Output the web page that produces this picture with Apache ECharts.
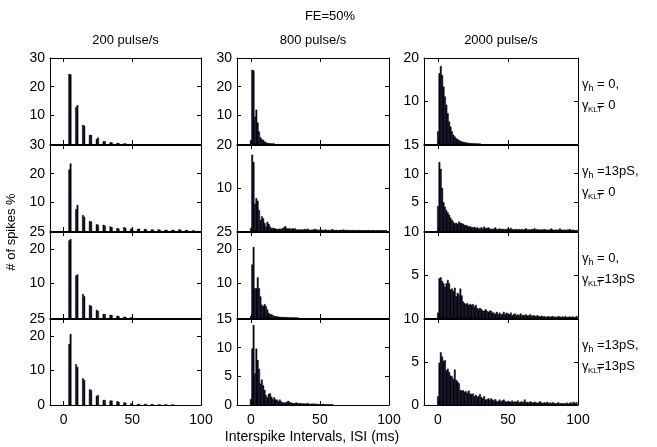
<!doctype html>
<html>
<head>
<meta charset="utf-8">
<title>FE=50%</title>
<style>
    html, body { margin: 0; padding: 0; background: #fff; }
    #chart { width: 657px; height: 447px; }
</style>
</head>
<body>
<div id="chart"></div>
<script src="https://cdn.jsdelivr.net/npm/echarts@6/dist/echarts.min.js"></script>
<script>
// ISI histograms, 1 ms bins. Rows: conductance settings, columns: pulse rates.
var rowLabels = [
    ['= 0,', '= 0'],
    ['=13pS,', '= 0'],
    ['= 0,', '=13pS'],
    ['=13pS,', '=13pS']
];
var colTitles = ['200 pulse/s', '800 pulse/s', '2000 pulse/s'];
var xTicks = [0, 50, 100];
var yMax = [[30, 30, 20], [30, 20, 15], [25, 25, 10], [25, 15, 10]];
var yStep = [[10, 10, 10], [10, 10, 5], [10, 10, 5], [10, 5, 5]];
var yTickLabels = [
    [[10, 20, 30], [10, 20, 30], [10, 20]],
    [[10, 20, 30], [10, 20], [5, 10, 15]],
    [[10, 20, 25], [10, 20, 25], [5, 10]],
    [[0, 10, 20, 25], [0, 5, 10, 15], [0, 5, 10]]
];

// 200 pulse/s: two bins just below each multiple of 5 ms (5, 10, 15 ...)
var p200_g0 = [[24.4, 24.2], [12.8, 13.5], [6.6, 6.3], [3.1, 3.1], [1.7, 2.2], [0.9, 0.9], [0.5, 0.5], [0.25, 0.25], [0.1, 0.1]];
var p200_gh = [[21.4, 23.5], [7.5, 9.0], [5.5, 4.9], [3.4, 3.2], [2.3, 2.1], [2.1, 1.8], [1.5, 1.3], [1.0, 0.8], [1.3, 1.0], [0.8, 0.8],
    [0.7, 0.7], [0.6, 0.6], [0.45, 0.45], [0.45, 0.45], [0.35, 0.35], [0.35, 0.35], [0.45, 0.45], [0.25, 0.25], [0.1, 0.1]];
var p200_gk = [[22.5, 22.9], [12.3, 12.6], [6.9, 6.3], [3.7, 3.5], [2.3, 2.0], [1.15, 1.1], [0.86, 0.8], [0.6, 0.5], [0.3, 0.3], [0.15, 0.15]];
var p200_ghk = [[17.7, 20.6], [11.8, 11.0], [7.7, 7.2], [4.5, 4.3], [2.6, 2.8], [1.4, 1.4], [1.25, 1.2], [1.0, 0.9], [0.7, 0.6], [0.4, 0.4],
    [0.25, 0.25], [0.2, 0.2], [0.15, 0.15], [0.1, 0.1], [0.1, 0.1], [0.05, 0.05]];

// 800 pulse/s, bins from 0 ms
var p800_g0 = [1.2, 25.8, 25.6, 9.5, 11.9, 7.4, 4.3, 2.3, 1.6, 1.4, 0.8, 0.5, 0.3, 0.2, 0.15, 0.1, 0.1, 0.05];
var p800_gh = [0.6, 17.7, 16.0, 6.3, 7.6, 7.0, 4.8, 2.5, 3.4, 2.9, 1.8, 1.0, 2.1, 1.6, 1.0, 0.6, 0.7, 0.6, 0.5, 0.4,
    0.4, 0.5, 0.4, 0.6, 0.8, 1.1, 0.6, 0.5, 0.6, 0.4, 0.6, 0.5, 0.6, 0.3, 0.3, 0.3, 0.3, 0.3, 0.3, 0.4,
    0.3, 0.5, 0.3, 0.2, 0.25, 0.3, 0.4, 0.4, 0.2, 0.3, 0.2, 0.2, 0.25, 0.2, 0.3, 0.2, 0.2, 0.15, 0.2, 0.4,
    0.2, 0.15, 0.2, 0.15, 0.2, 0.2, 0.15, 0.3, 0.15, 0.2, 0.15, 0.2, 0.15, 0.1, 0.2, 0.15, 0.1, 0.15, 0.2, 0.1,
    0.15, 0.1, 0.1, 0.15, 0.1, 0.2, 0.1, 0.1, 0.15, 0.1, 0.1, 0.1, 0.15, 0.1, 0.1, 0.1, 0.1, 0.1, 0.1];
var p800_gk = [0.5, 15.5, 20.6, 8.6, 8.6, 11.8, 8.6, 6.2, 3.8, 3.4, 4.0, 3.4, 2.4, 1.4, 1.1, 1.0, 0.8, 0.5, 0.5, 0.4,
    0.3, 0.3, 0.25, 0.2, 0.2, 0.2, 0.15, 0.15, 0.1, 0.1, 0.1, 0.1, 0.05, 0.05, 0.05];
var p800_ghk = [1.0, 9.8, 13.9, 5.5, 9.8, 7.8, 6.3, 3.7, 4.4, 3.4, 2.6, 1.7, 1.3, 1.9, 2.0, 1.4, 1.0, 1.3, 0.9, 0.9,
    0.6, 0.9, 0.6, 0.4, 0.4, 0.4, 0.5, 0.7, 0.5, 0.4, 0.3, 0.3, 0.3, 0.4, 0.3, 0.25, 0.3, 0.2, 0.25, 0.2,
    0.2, 0.3, 0.2, 0.15, 0.2, 0.2, 0.15, 0.2, 0.1, 0.15, 0.1, 0.1, 0.15, 0.1, 0.1, 0.1, 0.05, 0.1, 0.05, 0.1];

// 2000 pulse/s, bins from 0 ms
var p2000_g0 = [2.9, 16.4, 18.1, 16.0, 13.3, 11.0, 9.1, 7.1, 5.2, 4.0, 2.9, 2.1, 1.7, 1.3, 1.1, 0.85, 0.7, 0.55, 0.45, 0.4,
    0.3, 0.25, 0.2, 0.15, 0.12, 0.1, 0.08, 0.06, 0.05, 0.04, 0.03];
var p2000_gh = [4.3, 12.0, 10.8, 7.5, 5.0, 4.2, 3.6, 3.2, 2.8, 2.3, 1.9, 1.6, 1.3, 1.4, 1.2, 1.6, 1.4, 1.3, 1.2, 1.0,
    1.0, 0.9, 0.75, 0.8, 0.6, 0.6, 0.7, 0.5, 0.6, 0.4, 0.5, 0.6, 0.4, 0.75, 0.45, 0.5, 0.6, 0.4, 0.35, 0.3,
    0.4, 0.6, 0.3, 0.3, 0.4, 0.3, 0.35, 0.3, 0.25, 0.3, 0.45, 0.3, 0.5, 0.3, 0.25, 0.3, 0.3, 0.2, 0.3, 0.25,
    0.3, 0.2, 0.3, 0.45, 0.2, 0.25, 0.2, 0.3, 0.25, 0.45, 0.2, 0.3, 0.2, 0.2, 0.25, 0.2, 0.3, 0.2, 0.2, 0.15,
    0.25, 0.4, 0.2, 0.15, 0.2, 0.2, 0.15, 0.4, 0.2, 0.15, 0.2, 0.15, 0.2, 0.15, 0.35, 0.15, 0.2, 0.15, 0.1, 0.15];
var p2000_gk = [0.6, 4.6, 4.7, 4.3, 4.0, 3.6, 4.0, 4.4, 4.0, 3.3, 3.4, 3.1, 3.5, 2.5, 2.9, 2.7, 3.4, 2.6, 1.9, 1.7,
    1.6, 1.7, 1.5, 1.6, 1.5, 1.6, 1.3, 1.5, 1.15, 1.0, 1.15, 1.0, 0.85, 0.8, 1.0, 0.8, 0.7, 0.85, 0.8, 0.6,
    0.6, 0.45, 0.7, 0.45, 0.6, 0.4, 0.45, 0.7, 0.4, 0.6, 0.5, 0.4, 0.6, 0.3, 0.4, 0.5, 0.3, 0.4, 0.3, 0.5,
    0.3, 0.35, 0.3, 0.4, 0.25, 0.3, 0.4, 0.2, 0.3, 0.25, 0.2, 0.3, 0.2, 0.15, 0.25, 0.15, 0.2, 0.1, 0.15, 0.2,
    0.1, 0.15, 0.2, 0.1, 0.15, 0.1, 0.2, 0.15, 0.1, 0.15, 0.1, 0.2, 0.1, 0.1, 0.15, 0.1, 0.15, 0.1, 0.1, 0.2];
var p2000_ghk = [1.0, 4.9, 6.1, 5.6, 5.1, 5.2, 4.0, 4.2, 3.8, 3.4, 3.3, 3.0, 4.1, 2.9, 2.7, 2.5, 1.7, 1.65, 1.7, 1.5,
    1.6, 1.4, 1.65, 1.3, 1.25, 1.3, 1.0, 1.15, 0.95, 1.0, 1.25, 0.9, 0.75, 1.0, 0.6, 0.65, 0.75, 0.6, 0.75, 0.6,
    0.5, 0.65, 0.45, 0.4, 0.6, 0.4, 0.5, 0.6, 0.4, 0.35, 0.45, 0.4, 0.35, 0.5, 0.3, 0.4, 0.35, 0.5, 0.3, 0.35,
    0.4, 0.3, 0.6, 0.3, 0.35, 0.25, 0.4, 0.3, 0.25, 0.35, 0.3, 0.2, 0.3, 0.4, 0.25, 0.2, 0.3, 0.2, 0.35, 0.2,
    0.25, 0.2, 0.3, 0.2, 0.15, 0.2, 0.3, 0.15, 0.2, 0.15, 0.2, 0.15, 0.25, 0.15, 0.2, 0.3, 0.15, 0.35, 0.2, 0.3];

var panels = [
    [p200_g0, p800_g0, p2000_g0],
    [p200_gh, p800_gh, p2000_gh],
    [p200_gk, p800_gk, p2000_gk],
    [p200_ghk, p800_ghk, p2000_ghk]
];

var FONT = '"Liberation Sans", Arial, Helvetica, sans-serif';
var colLeft = [50, 237, 424], colWidth = [151, 152, 154];
var rowTop = [58, 145, 232, 319], rowHeight = 86;
var black = { color: '#000', width: 1 };

// pairs -> [ms, value] bins, peak sits at 5k-1 and 5k
function pairsToBins(pairs) {
    var out = [];
    pairs.forEach(function (p, k) {
        var c = 5 * (k + 1);
        out.push([c - 1, p[0]], [c, p[1]]);
    });
    return out;
}
function listToBins(list) {
    return list.map(function (v, i) { return [i, v]; });
}
function drawBin(params, api) {
    var x = api.value(0), y = api.value(1);
    var a = api.coord([x - 0.5, 0]);
    var b = api.coord([x + 0.5, y]);
    return {
        type: 'rect',
        shape: { x: a[0], y: b[1], width: b[0] - a[0], height: a[1] - b[1] },
        style: { fill: '#05051f', stroke: '#000', lineWidth: 0.4 }
    };
}

var grids = [], xAxes = [], yAxes = [], series = [];
for (var r = 0; r < 4; r++) {
    for (var c = 0; c < 3; c++) {
        var k = r * 3 + c;
        grids.push({ left: colLeft[c], top: rowTop[r], width: colWidth[c], height: rowHeight });
        var yt = [];
        for (var v = 0; v <= yMax[r][c]; v += yStep[r][c]) yt.push(v);
        ['bottom', 'top'].forEach(function (pos) {
            xAxes.push({
                gridIndex: k, type: 'value', min: -10, max: 100, position: pos,
                axisLine: { show: true, onZero: false, lineStyle: black },
                axisTick: { show: true, inside: true, length: 4, customValues: xTicks, lineStyle: black },
                axisLabel: {
                    show: pos === 'bottom' && r === 3, customValues: xTicks,
                    color: '#000', fontFamily: FONT, fontSize: 14, margin: 8
                },
                splitLine: { show: false }
            });
        });
        ['left', 'right'].forEach(function (pos) {
            yAxes.push({
                gridIndex: k, type: 'value', min: 0, max: yMax[r][c], interval: yStep[r][c], position: pos,
                axisLine: { show: true, onZero: false, lineStyle: black },
                axisTick: { show: true, inside: true, length: 4, customValues: yt, lineStyle: black },
                axisLabel: {
                    show: pos === 'left', customValues: yTickLabels[r][c],
                    color: '#000', fontFamily: FONT, fontSize: 14, margin: 5
                },
                splitLine: { show: false }
            });
        });
        series.push({
            type: 'custom',
            xAxisIndex: 2 * k,
            yAxisIndex: 2 * k,
            renderItem: drawBin,
            data: c === 0 ? pairsToBins(panels[r][c]) : listToBins(panels[r][c]),
            clip: true,
            silent: true
        });
    }
}

var graphics = [];
function addText(x, y, text, size, extra) {
    var el = {
        type: 'text', x: x, y: y, silent: true,
        style: { text: text, fill: '#000', fontFamily: FONT, fontSize: size, align: 'left', verticalAlign: 'middle' }
    };
    if (extra) {
        for (var key in extra) el.style[key] = extra[key];
    }
    graphics.push(el);
    return el;
}
addText(330, 16, 'FE=50%', 13, { align: 'center' });
colTitles.forEach(function (t, c) {
    addText(colLeft[c] + colWidth[c] / 2, 40, t, 13, { align: 'center' });
});
addText(312, 437, 'Interspike Intervals, ISI (ms)', 14, { align: 'center' });
var yl = addText(11, 232, '# of spikes %', 13, { align: 'center' });
yl.rotation = Math.PI / 2;

rowLabels.forEach(function (lab, r) {
    var y1 = rowTop[r] + 26, y2 = rowTop[r] + 47;
    addText(582, y1, 'γ', 13);
    addText(588.5, y1 + 5, 'h', 9);
    addText(597, y1, lab[0], 13);
    addText(582, y2, 'γ', 13);
    addText(588, y2 + 5, 'KLT', 8);
    addText(597, y2, lab[1], 13);
});

var chart = echarts.init(document.getElementById('chart'));
chart.setOption({
    animation: false,
    backgroundColor: '#fff',
    grid: grids,
    xAxis: xAxes,
    yAxis: yAxes,
    series: series,
    graphic: graphics
});
</script>
</body>
</html>
